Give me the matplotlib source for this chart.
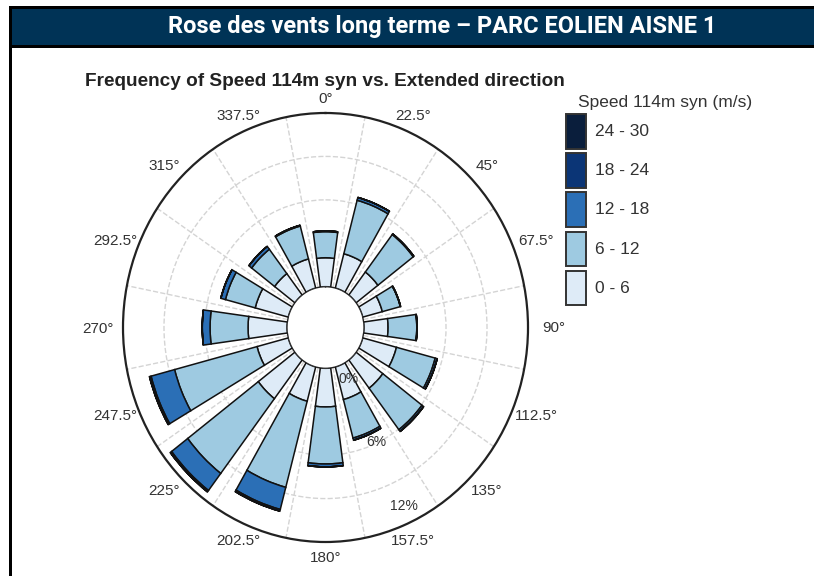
import numpy as np
import matplotlib.pyplot as plt
from matplotlib.patches import Rectangle

# wind directions (degrees, clockwise from north)
directions = np.arange(0, 360, 22.5)
direction_labels = [f"{d:g}\u00b0" for d in directions]

speed_bins = ["0 - 6", "6 - 12", "12 - 18", "18 - 24", "24 - 30"]

# frequency (%) per speed bin, one value per direction
freq_0_6   = [2.00, 2.45, 2.00, 1.48, 1.76, 2.55, 2.45, 2.33,
              2.67, 2.45, 3.36, 2.36, 2.85, 2.50, 1.86, 2.08]
freq_6_12  = [1.80, 3.82, 3.25, 1.36, 2.10, 2.93, 3.60, 2.75,
              3.94, 6.15, 6.49, 6.24, 2.78, 2.25, 2.11, 2.35]
freq_12_18 = [0.05, 0.20, 0.05, 0.02, 0.02, 0.15, 0.15, 0.15,
              0.20, 1.58, 1.48, 1.78, 0.57, 0.35, 0.25, 0.05]
freq_18_24 = [0.00, 0.00, 0.00, 0.00, 0.00, 0.00, 0.00, 0.00,
              0.00, 0.12, 0.12, 0.12, 0.00, 0.00, 0.00, 0.00]
freq_24_30 = [0.0] * 16

r_ticks = [0, 6, 12]
bin_colors = ["#deebf7", "#9ecae1", "#2b6fb6", "#0b3576", "#0a1e3c"]

HEADER = "Rose des vents long terme \u2013 PARC EOLIEN AISNE 1"
TITLE = "Frequency of Speed 114m syn vs. Extended direction"
SANS = ["Liberation Sans", "DejaVu Sans"]

fig = plt.figure(figsize=(8.14, 5.76), dpi=100, facecolor="white")

# frame + header band, drawn in pixel coordinates
bg = fig.add_axes([0, 0, 1, 1])
bg.set_xlim(0, 814)
bg.set_ylim(576, 0)
bg.axis("off")
bg.add_patch(Rectangle((9, 6), 805, 42, facecolor="black", edgecolor="none"))
bg.add_patch(Rectangle((11, 8.5), 803, 36.5, facecolor="#003356", edgecolor="none"))
bg.add_patch(Rectangle((9, 6), 2.5, 570, facecolor="black", edgecolor="none"))
bg.text(442, 27, HEADER, color="white", fontsize=17, fontweight="bold",
        family=["Roboto", "DejaVu Sans"], ha="center", va="center")
bg.text(85, 81, TITLE, color="#222222", fontsize=13.7, fontweight="bold",
        family=SANS, ha="left", va="center")

# polar wind rose (slightly stretched vertically like the source)
ax = fig.add_axes([123 / 814, 34 / 576, 405 / 814, 429 / 576], projection="polar")
ax.set_aspect("auto")
ax.set_theta_zero_location("N")
ax.set_theta_direction(-1)
ax.set_ylim(0, 12)
ax.set_rorigin(-2.82)

theta = np.deg2rad(directions)
width = np.deg2rad(15.5)
bottom = np.zeros(16)
for vals, col in zip([freq_0_6, freq_6_12, freq_12_18, freq_18_24, freq_24_30], bin_colors):
    vals = np.array(vals)
    ax.bar(theta, vals, width=width, bottom=bottom, color=col,
           edgecolor="#111111", linewidth=1.1, zorder=3)
    bottom = bottom + vals

# grid: dashed rings and spokes between sectors
ax.set_yticks([6, 9])
ax.set_yticklabels([])
ax.set_xticks(theta)
ax.set_xticklabels([])
ax.set_xticks(np.deg2rad(directions + 11.25), minor=True)
ax.xaxis.grid(False, which="major")
ax.xaxis.grid(True, which="minor", color="#d4d4d4", linestyle="--", linewidth=1.0)
ax.yaxis.grid(True, color="#d4d4d4", linestyle="--", linewidth=1.0)
ax.tick_params(axis="x", which="both", length=0)
ax.spines["polar"].set_linewidth(1.6)
ax.spines["polar"].set_color("#222222")
ax.spines["inner"].set_linewidth(1.0)
ax.spines["inner"].set_color("#222222")

for r, off in zip(r_ticks, [1.1, -0.1, -1.2]):
    ax.text(np.deg2rad(155), r + off, f"{r}%", fontsize=10, color="#333333",
            family=SANS, ha="center", va="center", zorder=5)

# direction labels around the rim (pixel coords, centre 325.5/327.5)
for d, lab in zip(directions, direction_labels):
    a = np.deg2rad(d)
    bg.text(325.5 + 228 * np.sin(a), 328.5 - 229.5 * np.cos(a), lab,
            fontsize=11, color="#333333", family=SANS, ha="center", va="center")

# legend drawn as boxes in pixel coordinates
bg.text(578, 102, "Speed 114m syn (m/s)", fontsize=12.5, color="#333333",
        family=SANS, ha="left", va="center")
for i, (lab, col) in enumerate(zip(speed_bins[::-1], bin_colors[::-1])):
    y0 = 114 + i * 39.2
    bg.add_patch(Rectangle((566, y0), 20, 34.5, facecolor=col,
                           edgecolor="#333333", linewidth=1.4))
    bg.text(595, y0 + 17.5, lab, fontsize=12.5, color="#333333",
            family=SANS, ha="left", va="center")

fig.savefig("out.png", dpi=100, facecolor="white")
